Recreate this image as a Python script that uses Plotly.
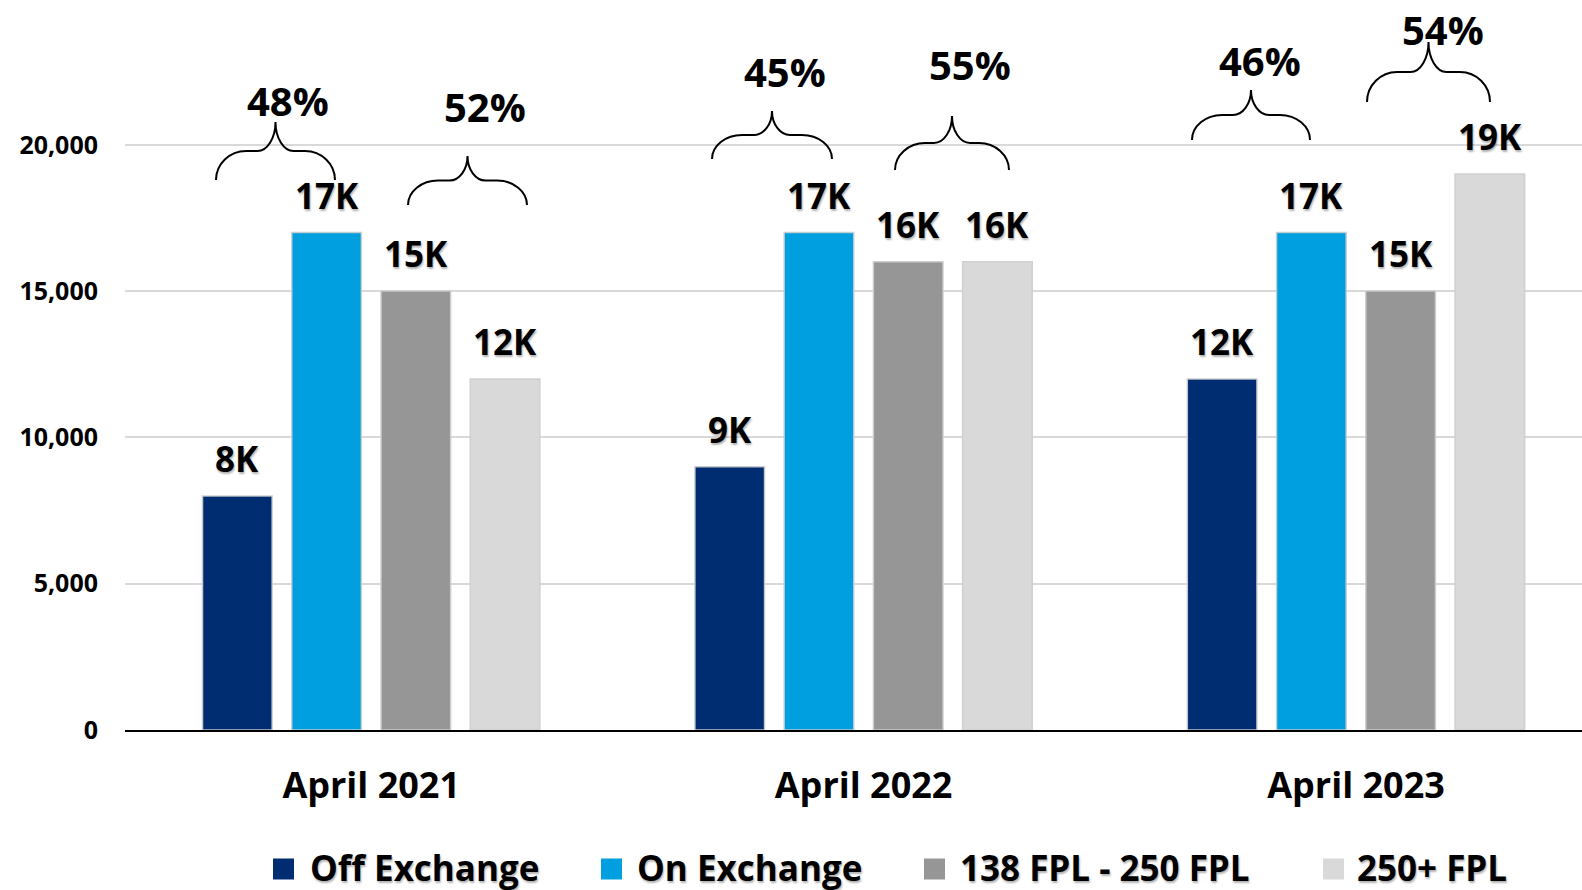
import plotly.graph_objects as go

# ---------------- data ----------------
categories = ["April 2021", "April 2022", "April 2023"]
series_names = ["Off Exchange", "On Exchange", "138 FPL - 250 FPL", "250+ FPL"]
off_exchange = [8000, 9000, 12000]
on_exchange = [17000, 17000, 17000]
fpl_138_250 = [15000, 16000, 15000]
fpl_250_plus = [12000, 16000, 19000]
# share of each pair within the year (left pair = Off+On, right pair = FPL bands)
left_pair_share = [48, 45, 46]
right_pair_share = [52, 55, 54]
y_tick_vals = [0, 5000, 10000, 15000, 20000]
y_tick_text = ["0", "5,000", "10,000", "15,000", "20,000"]

# ---------------- style ----------------
colors = ["#002D72", "#009FDF", "#969696", "#D9D9D9"]
FONT = "'Open Sans', Lato, sans-serif"
SHADOW = "1px 2px 2px rgba(0,0,0,0.30)"
W, H = 1582, 890
M_L, M_R, M_T, M_B = 125, 0, 0, 160
X_RANGE = [-0.5, 2.459]
Y_RANGE = [0, 24949]
BARGAP = 0.275
BARGROUPGAP = 0.22

plot_w = W - M_L - M_R
plot_h = H - M_T - M_B


def px2x(px):
    return X_RANGE[0] + (px - M_L) / plot_w * (X_RANGE[1] - X_RANGE[0])


def px2y(py):
    return Y_RANGE[0] + (H - M_B - py) / plot_h * (Y_RANGE[1] - Y_RANGE[0])


xpos = list(range(len(categories)))
all_series = [off_exchange, on_exchange, fpl_138_250, fpl_250_plus]
n_series = len(all_series)
slot = (1 - BARGAP) / n_series

fig = go.Figure()
annotations = []
for k, (name, vals, col) in enumerate(zip(series_names, all_series, colors)):
    fig.add_trace(go.Bar(
        x=xpos, y=vals, name=name, marker_color=col,
        marker_line=dict(width=1.5, color="rgba(205,205,205,0.9)"),
        showlegend=False, hoverinfo="x+y+name",
    ))
    for i, v in zip(xpos, vals):
        annotations.append(dict(
            x=i + (k - (n_series - 1) / 2) * slot, y=v, xref="x", yref="y",
            text=f"{v/1000:.0f}K", showarrow=False,
            xanchor="center", yanchor="bottom", yshift=12,
            font=dict(family=FONT, size=35, color="black", weight="bold", shadow=SHADOW)))

# ---------------- braces + percentages (decorations, pixel layout) ----------------
# (left px, right px, base px, tip px, label x px, label y px)
brace_layout = [
    (216, 335, 180, 122, 288, 100),
    (408, 527, 205, 156, 485, 106),
    (712, 832, 159, 111, 785, 71),
    (895, 1009, 170, 116, 970, 64),
    (1192, 1310, 140, 90, 1260, 60),
    (1367, 1490, 102, 42, 1443, 29),
]
shares = []
for a, b in zip(left_pair_share, right_pair_share):
    shares += [a, b]

shapes = []
for (xl, xr, yb, yt, lx, ly), pct in zip(brace_layout, shares):
    xc = (xl + xr) / 2
    yf = yb - (yb - yt) * 0.5  # flat level
    r1 = 30
    r2 = 18
    pts = [
        ("M", [(xl, yb)]),
        ("C", [(xl, yb - (yb - yf) * 0.55), (xl + r1 * 0.45, yf), (xl + r1, yf)]),
        ("L", [(xc - r2, yf)]),
        ("C", [(xc - r2 * 0.45, yf), (xc, yf - (yf - yt) * 0.45), (xc, yt)]),
        ("C", [(xc, yf - (yf - yt) * 0.45), (xc + r2 * 0.45, yf), (xc + r2, yf)]),
        ("L", [(xr - r1, yf)]),
        ("C", [(xr - r1 * 0.45, yf), (xr, yb - (yb - yf) * 0.55), (xr, yb)]),
    ]
    path = ""
    for cmd, pp in pts:
        path += cmd + " " + " ".join(f"{px2x(px):.5f},{px2y(py):.2f}" for px, py in pp) + " "
    shapes.append(dict(type="path", path=path.strip(), xref="x", yref="y",
                       line=dict(color="black", width=2)))
    annotations.append(dict(x=px2x(lx), y=px2y(ly), xref="x", yref="y",
                            text=f"{pct}%", showarrow=False,
                            font=dict(family=FONT, size=40, color="black", weight="bold"),
                            xanchor="center", yanchor="middle"))

# ---------------- manual legend ----------------
# (square left px, text left px)
legend_layout = [(273, 308), (601, 635), (924, 958), (1323, 1355)]
leg_y = 867
sq = 21
for (sx, tx), name, col in zip(legend_layout, series_names, colors):
    shapes.append(dict(type="rect", xref="paper", yref="paper",
                       x0=(sx - M_L) / plot_w, x1=(sx + sq - M_L) / plot_w,
                       y0=(H - M_B - (leg_y + 2 + sq / 2)) / plot_h,
                       y1=(H - M_B - (leg_y + 2 - sq / 2)) / plot_h,
                       fillcolor=col, line=dict(width=0)))
    annotations.append(dict(xref="paper", yref="paper",
                            x=(tx - M_L) / plot_w, y=(H - M_B - leg_y) / plot_h,
                            text=name, showarrow=False, xanchor="left", yanchor="middle",
                            font=dict(family=FONT, size=35, color="black", weight="bold",
                                      shadow=SHADOW)))

fig.update_layout(
    width=W, height=H,
    margin=dict(l=M_L, r=M_R, t=M_T, b=M_B, pad=0),
    paper_bgcolor="white", plot_bgcolor="white",
    barmode="group", bargap=BARGAP, bargroupgap=BARGROUPGAP,
    showlegend=False,
    shapes=shapes, annotations=annotations,
    xaxis=dict(range=X_RANGE, tickvals=xpos, ticktext=categories,
               showgrid=False, zeroline=False, showline=True,
               linecolor="black", linewidth=2, ticks="",
               ticklabelstandoff=23,
               tickfont=dict(family=FONT, size=36, color="black", weight="bold")),
    yaxis=dict(range=Y_RANGE, tickvals=y_tick_vals, ticktext=y_tick_text,
               showgrid=True, gridcolor="#D9D9D9", gridwidth=2,
               zeroline=False, showline=False, ticks="",
               ticklabelstandoff=26,
               tickfont=dict(family=FONT, size=25, color="black", weight="bold")),
)

fig.write_html("out.html", config={"displayModeBar": False},
               post_script="document.body.style.margin='0';document.body.style.padding='0';")
